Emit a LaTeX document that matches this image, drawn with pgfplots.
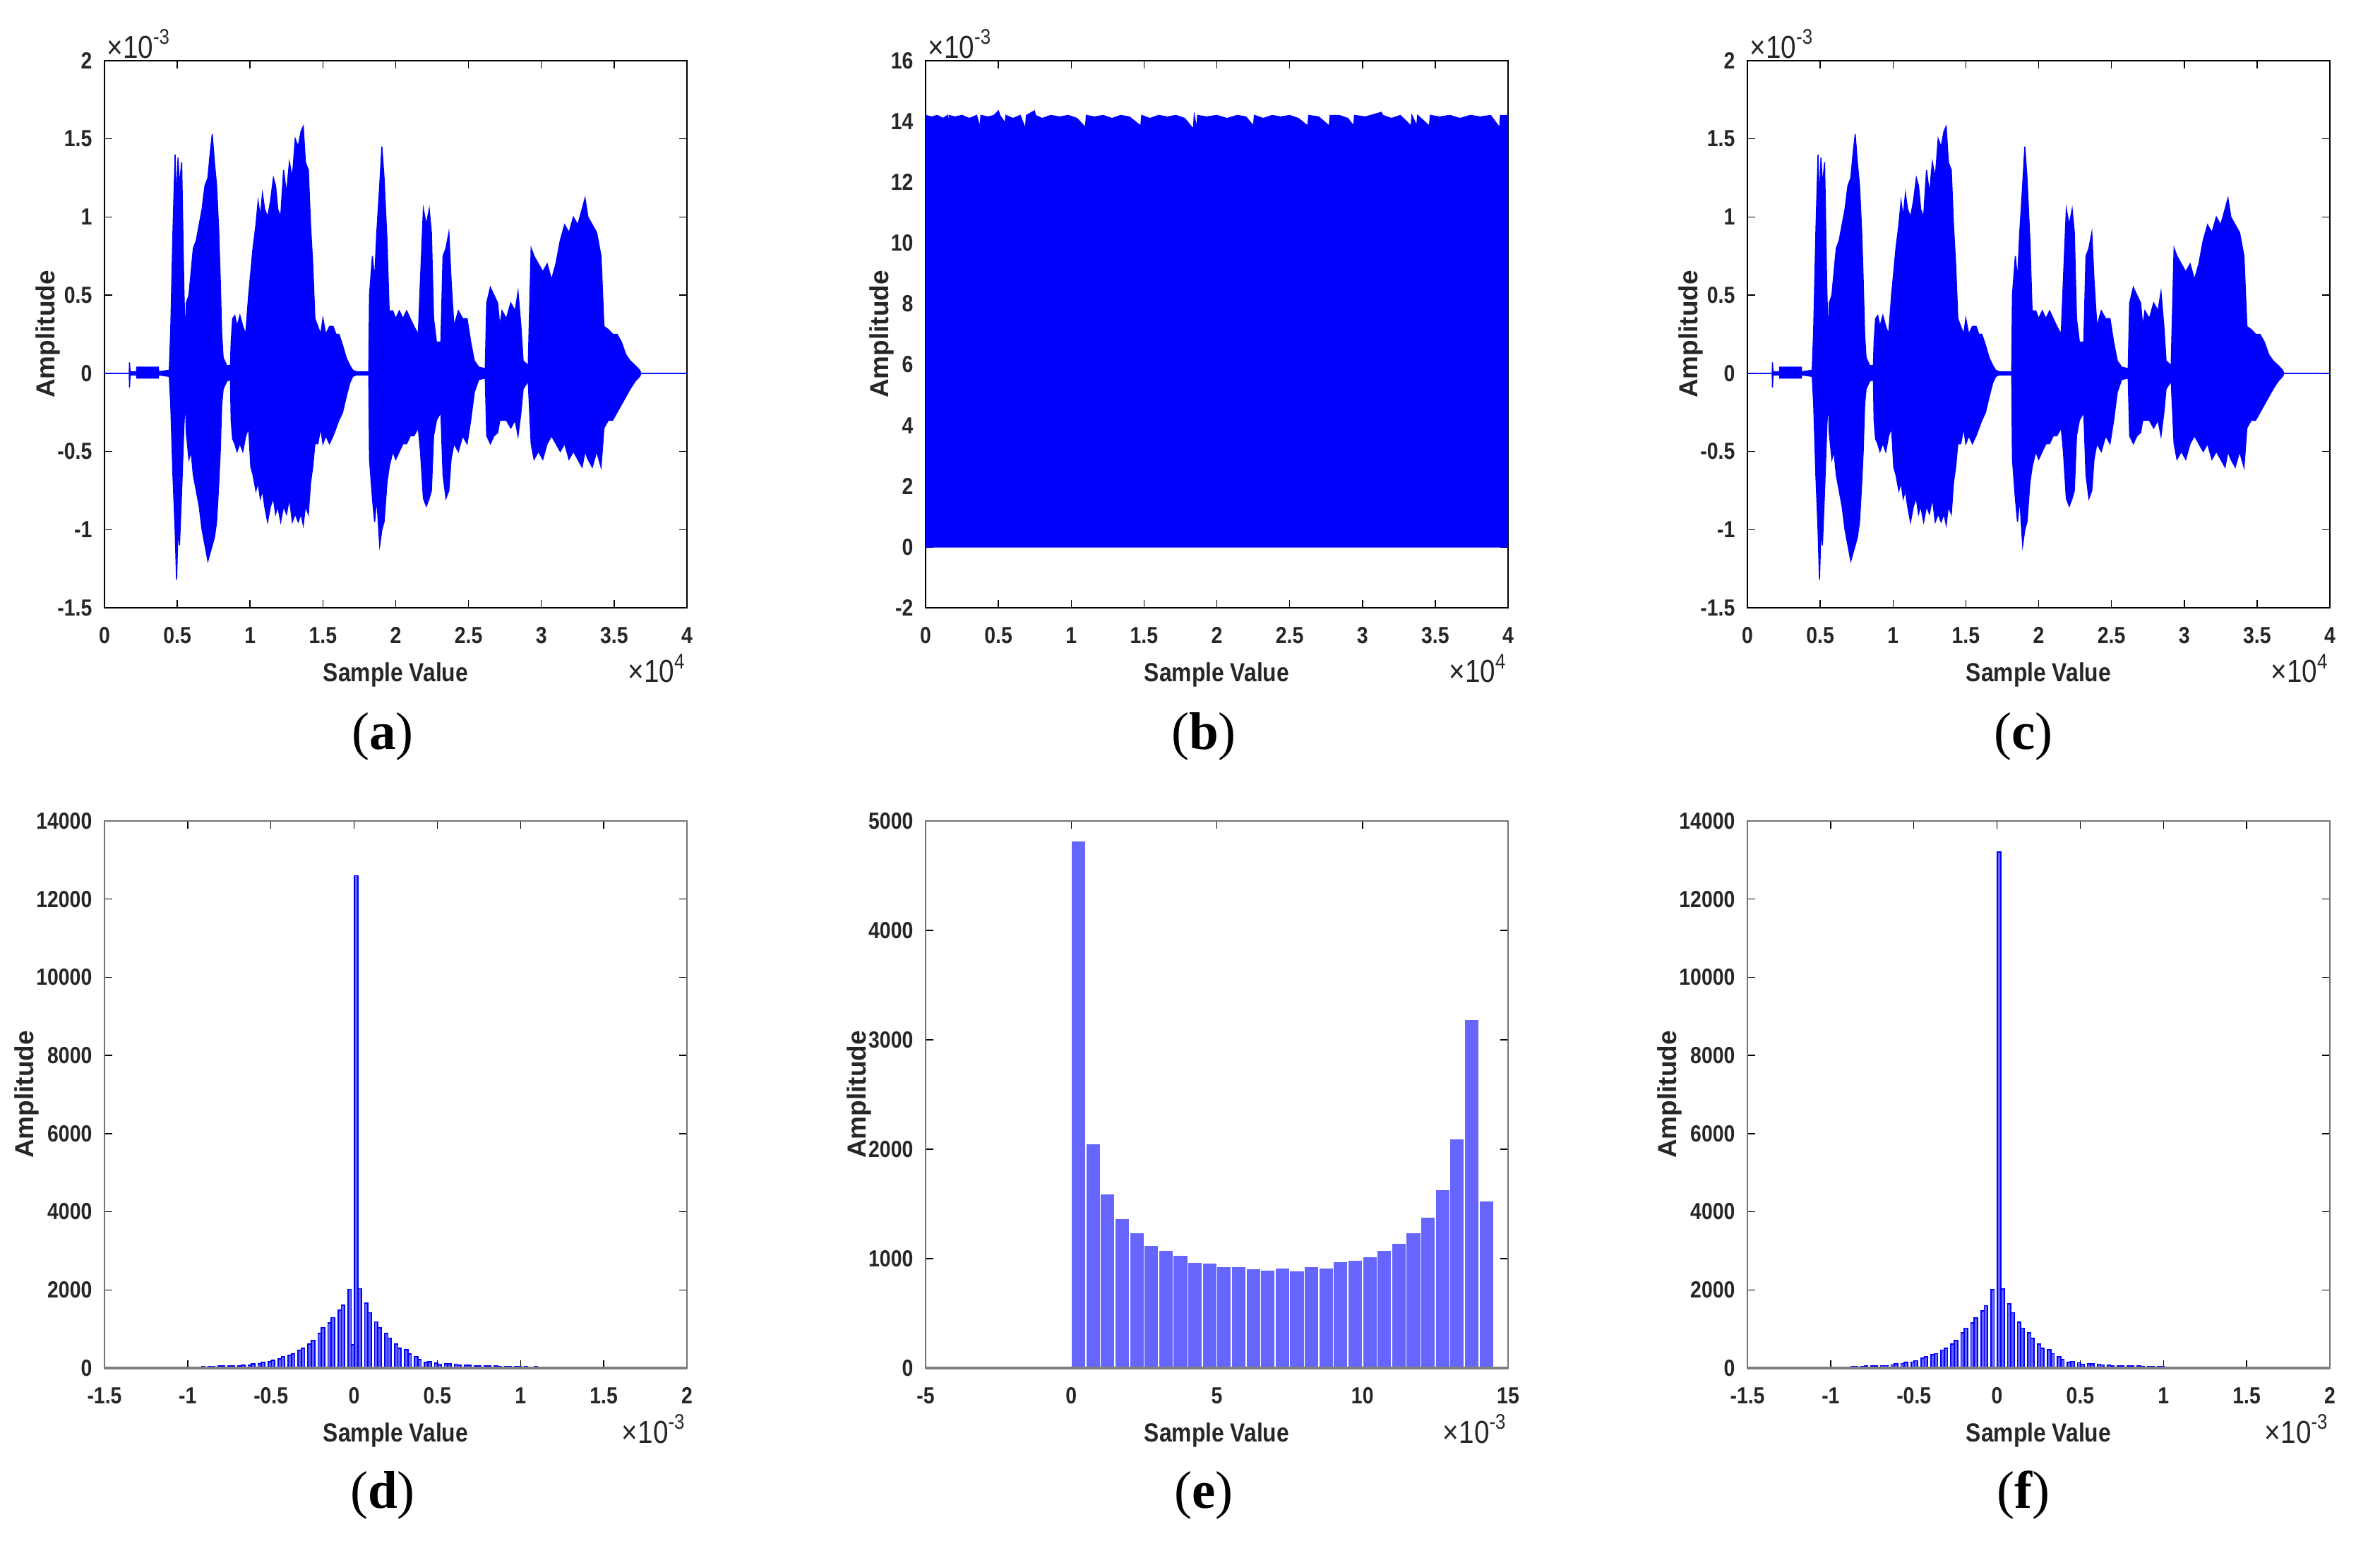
\documentclass[border=0pt]{standalone}
\usepackage{fontspec}
\setmainfont{Liberation Sans}[FakeStretch=0.86]
\newfontfamily\widefont{Liberation Sans}
\newfontfamily\capfont{Liberation Serif}
\usepackage{pgfplots}
\pgfplotsset{compat=1.18}
\usepackage{pgfplotstable}

% speech envelope (samples, upper, lower in 1e-3)
\pgfplotstableread{
s hi lo
0 0 0
1700 0 0
1720 0.07 -0.09
1760 0.01 -0.01
2200 0.01 -0.01
2220 0.04 -0.03
3700 0.04 -0.03
3720 0.01 -0.01
4450 0.02 -0.02
4550 0.28 -0.2
4700 0.9 -0.65
4850 1.4 -1.0
4950 1.1 -1.32
5050 1.38 -1.0
5150 1.2 -1.1
5300 1.35 -0.75
5450 0.55 -0.35
5550 0.2 -0.15
5620 0.45 -0.38
5800 0.5 -0.55
5950 0.65 -0.5
6100 0.8 -0.65
6300 0.85 -0.75
6500 0.95 -0.85
6700 1.05 -1.0
6900 1.2 -1.1
7100 1.25 -1.2
7250 1.4 -1.15
7400 1.53 -1.1
7550 1.35 -1.05
7700 1.2 -0.95
7850 0.9 -0.7
7950 0.6 -0.5
8050 0.25 -0.2
8150 0.1 -0.1
8400 0.05 -0.05
8650 0.05 -0.04
8700 0.2 -0.3
8800 0.35 -0.42
8950 0.37 -0.45
9100 0.3 -0.5
9300 0.37 -0.45
9500 0.3 -0.5
9700 0.25 -0.4
9900 0.5 -0.35
10050 0.65 -0.6
10200 0.8 -0.65
10400 0.95 -0.75
10550 1.1 -0.7
10700 1.0 -0.8
10850 1.15 -0.75
11000 1.05 -0.85
11200 1.0 -0.95
11400 1.1 -0.85
11600 1.25 -0.8
11750 1.2 -0.9
11900 1.05 -0.85
12100 1.0 -0.95
12300 1.3 -0.85
12500 1.15 -0.9
12700 1.35 -0.8
12900 1.25 -0.95
13100 1.5 -0.9
13300 1.45 -0.95
13500 1.55 -0.9
13650 1.58 -0.97
13800 1.35 -0.85
14000 1.3 -0.9
14150 0.95 -0.7
14300 0.7 -0.6
14450 0.35 -0.45
14650 0.3 -0.45
14850 0.25 -0.35
15000 0.35 -0.45
15200 0.25 -0.4
15450 0.3 -0.45
15700 0.3 -0.4
15900 0.25 -0.35
16100 0.25 -0.3
16350 0.18 -0.25
16600 0.1 -0.15
16850 0.05 -0.06
17050 0.02 -0.02
17300 0.01 -0.01
18150 0.01 -0.01
18200 0.5 -0.55
18400 0.75 -0.8
18550 0.6 -0.95
18700 0.9 -0.8
18900 1.2 -1.1
19050 1.45 -1.0
19200 1.25 -0.95
19400 0.85 -0.7
19550 0.4 -0.6
19800 0.4 -0.5
20000 0.35 -0.55
20250 0.4 -0.5
20500 0.35 -0.45
20750 0.4 -0.45
21000 0.35 -0.4
21250 0.3 -0.4
21550 0.25 -0.35
21700 0.6 -0.5
21900 1.05 -0.8
22100 0.95 -0.85
22300 1.05 -0.8
22450 0.9 -0.75
22600 0.35 -0.4
22800 0.2 -0.3
23100 0.2 -0.25
23250 0.75 -0.65
23450 0.8 -0.8
23650 0.9 -0.75
23800 0.6 -0.55
24000 0.3 -0.45
24300 0.4 -0.5
24600 0.35 -0.4
24900 0.35 -0.45
25150 0.2 -0.3
25400 0.08 -0.12
25700 0.04 -0.04
26150 0.03 -0.03
26250 0.45 -0.4
26500 0.55 -0.45
26750 0.5 -0.4
27000 0.45 -0.38
27150 0.3 -0.3
27300 0.4 -0.3
27600 0.35 -0.3
27900 0.45 -0.35
28200 0.4 -0.3
28400 0.52 -0.4
28600 0.3 -0.25
28750 0.08 -0.1
29100 0.05 -0.05
29300 0.8 -0.45
29500 0.75 -0.55
29800 0.7 -0.5
30100 0.65 -0.55
30400 0.7 -0.45
30700 0.6 -0.4
31000 0.7 -0.45
31300 0.85 -0.5
31600 0.95 -0.45
31900 0.9 -0.55
32200 1.0 -0.5
32500 0.95 -0.55
32800 1.05 -0.6
33000 1.12 -0.5
33200 1.0 -0.55
33500 0.95 -0.6
33800 0.9 -0.5
34100 0.75 -0.6
34300 0.3 -0.35
34600 0.28 -0.3
34900 0.25 -0.3
35200 0.25 -0.25
35500 0.2 -0.2
35800 0.12 -0.15
36100 0.08 -0.1
36450 0.05 -0.05
36750 0.02 -0.02
36850 0 0
40000 0 0
}\wavetab

% encrypted signal top edge (1e-3)
\pgfplotstableread{
s top
0 14.2
400 14.15
800 14.2
1200 14.1
1500 14.2
1560 13.8
1620 14.2
2000 14.15
2500 14.2
3000 14.1
3500 14.2
3740 13.8
3800 14.2
4300 14.15
4700 14.2
5000 14.35
5100 14.2
5460 13.95
5520 14.2
6000 14.1
6500 14.2
6860 13.75
6920 14.2
7470 14.35
7550 14.2
8000 14.1
8600 14.2
9200 14.15
9800 14.2
10400 14.1
10980 13.8
11040 14.2
11600 14.15
12200 14.2
12800 14.1
13400 14.2
14000 14.15
14780 13.85
14840 14.2
15400 14.1
16000 14.2
16600 14.15
17200 14.2
17800 14.1
18390 13.75
18450 14.2
18620 13.75
18680 14.2
19300 14.15
20000 14.2
20700 14.1
21400 14.2
22000 14.15
22520 13.85
22580 14.2
23200 14.1
23800 14.2
24400 14.15
25000 14.2
25600 14.1
26250 13.85
26310 14.2
27000 14.15
27720 13.85
27780 14.2
28400 14.2
29000 14.1
29400 13.85
29460 14.2
30200 14.15
31290 14.3
31400 14.2
32000 14.1
32600 14.2
33340 13.85
33400 14.2
33730 13.85
33790 14.2
34600 13.85
34660 14.2
35300 14.15
36000 14.2
36700 14.1
37400 14.2
38100 14.15
38800 14.2
39420 13.8
39480 14.2
40000 14.2
}\enctab

% histograms of original (d) and decrypted (f) signal, bin centres in 1e-3
\pgfplotstableread{
v d f
-1.287 3 3
-1.267 3 3
-1.227 5 5
-1.207 5 5
-1.167 6 6
-1.147 6 6
-1.107 8 8
-1.087 8 8
-1.047 10 12
-1.027 12 12
-0.987 18 20
-0.967 24 22
-0.927 24 26
-0.907 30 28
-0.867 36 34
-0.847 36 40
-0.807 48 46
-0.787 48 50
-0.747 48 52
-0.727 55 55
-0.687 60 62
-0.667 66 64
-0.627 78 80
-0.607 115 110
-0.567 110 120
-0.547 150 145
-0.507 160 155
-0.487 200 190
-0.447 240 250
-0.427 283 290
-0.387 332 340
-0.367 368 370
-0.327 452 460
-0.307 500 500
-0.267 615 620
-0.247 705 710
-0.207 892 900
-0.187 1025 1020
-0.147 1152 1150
-0.127 1290 1280
-0.087 1477 1470
-0.067 1604 1600
-0.027 2014 2010
-0.007 597 0
0.013 12600 13200
0.033 2032 2030
0.073 1658 1650
0.093 1417 1420
0.133 1182 1180
0.153 1025 1020
0.193 892 900
0.213 766 760
0.253 621 620
0.273 500 510
0.313 470 470
0.333 368 370
0.373 283 285
0.393 223 220
0.433 151 150
0.453 169 170
0.493 133 135
0.513 100 100
0.553 115 115
0.573 115 110
0.613 102 100
0.633 78 80
0.673 66 66
0.693 66 60
0.733 60 60
0.753 60 55
0.793 60 60
0.813 55 55
0.853 60 55
0.873 42 40
0.913 36 36
0.933 36 30
0.973 42 30
0.993 36 30
1.033 36 24
1.053 24 20
1.093 30 24
1.113 24 20
1.153 24 20
1.173 20 20
1.213 20 18
1.233 18 18
1.273 18 15
1.293 15 15
1.333 15 12
1.353 12 12
1.393 10 8
1.413 8 6
1.453 4 4
1.473 3 3
}\histtab

% histogram of encrypted signal (e)
\pgfplotstableread{
v n
-0.25 20
0.25 4819
0.75 2048
1.25 1595
1.75 1369
2.25 1238
2.75 1123
3.25 1077
3.75 1032
4.25 966
4.75 958
5.25 929
5.75 925
6.25 905
6.75 896
7.25 917
7.75 892
8.25 925
8.75 917
9.25 970
9.75 983
10.25 1016
10.75 1073
11.25 1139
11.75 1238
12.25 1378
12.75 1628
13.25 2093
13.75 3187
14.25 1530
}\histetab

\pgfplotsset{
  panel/.style={
    scale only axis, width=165pt, height=155pt, anchor=north west,
    clip mode=individual, scaled ticks=false,
    tick align=inside, major tick length=2.2pt,
    tick style={black, line width=0.3pt},
    axis line style={black, line width=0.4pt},
    ticklabel style={font=\bfseries\fontsize{6.6}{7}\selectfont, text=black!85},
    xticklabel style={yshift=-2pt},
    xlabel style={font=\bfseries\fontsize{7.4}{8}\selectfont, text=black!85, yshift=1.5pt},
    ylabel style={font=\widefont\bfseries\fontsize{7.4}{8}\selectfont, text=black!85},
    ylabel shift=-7.7pt,
    xlabel={Sample Value}, ylabel={Amplitude},
    /pgf/number format/assume math mode=true,
    /pgf/number format/1000 sep={},
  },
  wave/.style={panel, xmin=0, xmax=40000,
    xtick={0,5000,10000,15000,20000,25000,30000,35000,40000},
    xticklabels={0,0.5,1,1.5,2,2.5,3,3.5,4}},
  hst/.style={panel, axis line style={black!55, line width=0.4pt}},
}
\newcommand{\scl}[1]{\fontsize{9}{10}\selectfont\color{black!85}×10\textsuperscript{#1}}

\begin{document}
\begin{tikzpicture}
\useasboundingbox (0,0) rectangle (674.2pt,-436.4pt);

% (a) original
\begin{axis}[wave, at={(29.6pt,-17.2pt)}, ymin=-1.5, ymax=2,
  ytick={-1.5,-1,-0.5,0,0.5,1,1.5,2}]
\addplot[fill=blue, draw=blue, line width=0.3pt] table[x=s, y=hi] {\wavetab} \closedcycle;
\addplot[fill=blue, draw=blue, line width=0.3pt] table[x=s, y=lo] {\wavetab} \closedcycle;
\node[anchor=south west, inner sep=0.5pt] at (rel axis cs:0,1) {\scl{-3}};
\node[anchor=north east, inner sep=0pt, yshift=-13pt] at (rel axis cs:1,0) {\scl{4}};
\end{axis}

% (b) encrypted
\begin{axis}[wave, at={(262.2pt,-17.2pt)}, ymin=-2, ymax=16,
  ytick={-2,0,2,4,6,8,10,12,14,16}]
\addplot[fill=blue, draw=blue, line width=0.3pt] table[x=s, y=top] {\enctab} \closedcycle;
\node[anchor=south west, inner sep=0.5pt] at (rel axis cs:0,1) {\scl{-3}};
\node[anchor=north east, inner sep=0pt, yshift=-13pt] at (rel axis cs:1,0) {\scl{4}};
\end{axis}

% (c) decrypted
\begin{axis}[wave, at={(495pt,-17.2pt)}, ymin=-1.5, ymax=2,
  ytick={-1.5,-1,-0.5,0,0.5,1,1.5,2}]
\addplot[fill=blue, draw=blue, line width=0.3pt] table[x=s, y=hi] {\wavetab} \closedcycle;
\addplot[fill=blue, draw=blue, line width=0.3pt] table[x=s, y=lo] {\wavetab} \closedcycle;
\node[anchor=south west, inner sep=0.5pt] at (rel axis cs:0,1) {\scl{-3}};
\node[anchor=north east, inner sep=0pt, yshift=-13pt] at (rel axis cs:1,0) {\scl{4}};
\end{axis}

% (d) histogram original
\begin{axis}[hst, at={(29.6pt,-232.6pt)}, xmin=-1.5, xmax=2, ymin=0, ymax=14000,
  xtick={-1.5,-1,-0.5,0,0.5,1,1.5,2}, ytick={0,2000,4000,6000,8000,10000,12000,14000}]
\addplot[ybar, bar width=0.02, bar shift=0pt, fill=blue!60, draw=blue, line width=0.35pt]
  table[x=v, y=d] {\histtab};
\draw[gray, line width=0.8pt] (rel axis cs:0,0) -- (rel axis cs:1,0);
\node[anchor=north east, inner sep=0pt, yshift=-13pt] at (rel axis cs:1,0) {\scl{-3}};
\end{axis}

% (e) histogram encrypted
\begin{axis}[hst, at={(262.2pt,-232.6pt)}, xmin=-5, xmax=15, ymin=0, ymax=5000,
  xtick={-5,0,5,10,15}, ytick={0,1000,2000,3000,4000,5000}]
\addplot[ybar, bar width=0.5, bar shift=0pt, fill=blue!60, draw=white, line width=0.3pt]
  table[x=v, y=n] {\histetab};
\draw[gray, line width=0.8pt] (rel axis cs:0,0) -- (rel axis cs:1,0);
\node[anchor=north east, inner sep=0pt, yshift=-13pt] at (rel axis cs:1,0) {\scl{-3}};
\end{axis}

% (f) histogram decrypted
\begin{axis}[hst, at={(495pt,-232.6pt)}, xmin=-1.5, xmax=2, ymin=0, ymax=14000,
  xtick={-1.5,-1,-0.5,0,0.5,1,1.5,2}, ytick={0,2000,4000,6000,8000,10000,12000,14000}]
\addplot[ybar, bar width=0.02, bar shift=0pt, fill=blue!60, draw=blue, line width=0.35pt]
  table[x=v, y=f] {\histtab};
\draw[gray, line width=0.8pt] (rel axis cs:0,0) -- (rel axis cs:1,0);
\node[anchor=north east, inner sep=0pt, yshift=-13pt] at (rel axis cs:1,0) {\scl{-3}};
\end{axis}

% panel captions
\foreach \lab/\cx/\cy in {a/108.4/208.6, b/341/208.6, c/573.2/208.6,
                          d/108.4/423.6, e/341/423.6, f/573.2/423.6}
  \node at (\cx pt,-\cy pt) {\capfont\fontsize{15}{17}\selectfont(\textbf{\lab})};
\end{tikzpicture}
\end{document}
